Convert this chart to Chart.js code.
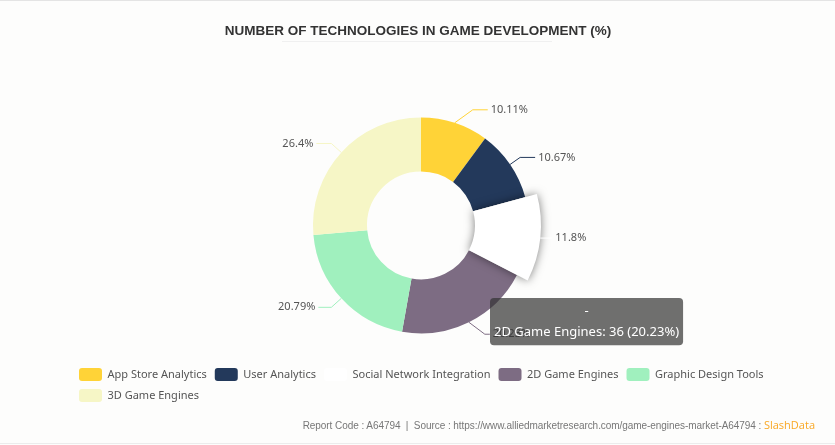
<!DOCTYPE html>
<html>
<head>
<meta charset="utf-8">
<style>
  html, body { margin: 0; padding: 0; background: #fdfdfc; }
  #wrap { position: relative; width: 835px; height: 445px; overflow: hidden; }
  #wrap:before { content: ''; position: absolute; left: 0; right: 0; top: 0; height: 1px; background: #e4e4e4; }
  #wrap:after { content: ''; position: absolute; left: 0; right: 0; bottom: 1px; height: 1px; background: #ececec; }
  #underline { position: absolute; left: 282px; top: 41px; width: 270px; height: 1px; background: #f0f0f0; }
  #footer { position: absolute; right: 20px; top: 417px; font: 10px "Liberation Sans", Arial, sans-serif; letter-spacing: -0.06px; color: #777; white-space: pre; }
  #footer span { font: 11px "Open Sans", sans-serif; letter-spacing: 0; color: #f9a825; }
</style>
</head>
<body>
<div id="wrap">
  <canvas id="chart" width="835" height="445"></canvas>
  <div id="underline"></div>
  <div id="footer">Report Code : A64794  |  Source : https://www.alliedmarketresearch.com/game-engines-market-A64794 : <span>SlashData</span></div>
</div>
<script src="https://cdn.jsdelivr.net/npm/chart.js@4"></script>
<script>
const categories = ['App Store Analytics', 'User Analytics', 'Social Network Integration', '2D Game Engines', 'Graphic Design Tools', '3D Game Engines'];
const counts = [18, 19, 21, 36, 37, 47];
const shares = ['10.11%', '10.67%', '11.8%', '20.23%', '20.79%', '26.4%'];
const colors = ['#FFD337', '#23395B', '#FFFFFF', '#7D6C83', '#A0F0BE', '#F6F6C6'];
const highlighted = 2;   // the slice drawn bigger with a shadow
const tooltipSlice = 3;

// elbow dx, elbow dy, horizontal run for each leader line
const leaders = [[18, -13, 15], [10, -7, 15], [10, 0, 2], [16, 12, 5], [-10, 9, -13], [-10, -9, -15]];

Chart.Tooltip.positioners.fixedBox = () => ({ x: 494, y: 296 });

const sliceExtras = {
  id: 'sliceExtras',
  afterDatasetsUpdate(chart) {
    const arc = chart.getDatasetMeta(0).data[highlighted];
    arc.outerRadius = 120;
  },
  afterLayout(chart) {
    chart.titleBlock.left -= 3;
    chart.titleBlock.right -= 3;
    chart.legend.left += 10;
  },
  afterDatasetsDraw(chart) {
    const ctx = chart.ctx;
    const arcs = chart.getDatasetMeta(0).data;

    ctx.save();
    ctx.shadowColor = 'rgba(0,0,0,0.5)';
    ctx.shadowBlur = 10;
    arcs[highlighted].draw(ctx);
    ctx.restore();

    ctx.save();
    ctx.font = '11px "Noto Sans"';
    ctx.textBaseline = 'middle';
    ctx.lineWidth = 1;
    arcs.forEach((arc, i) => {
      const mid = (arc.startAngle + arc.endAngle) / 2;
      const x0 = arc.x + Math.cos(mid) * arc.outerRadius;
      const y0 = arc.y + Math.sin(mid) * arc.outerRadius;
      const [dx, dy, run] = leaders[i];
      const x1 = x0 + dx, y1 = y0 + dy, x2 = x1 + run;
      ctx.strokeStyle = colors[i];
      ctx.beginPath();
      ctx.moveTo(x0, y0);
      ctx.lineTo(x1, y1);
      ctx.lineTo(x2, y1);
      ctx.stroke();
      ctx.fillStyle = '#555';
      ctx.textAlign = run < 0 ? 'right' : 'left';
      ctx.fillText(shares[i], x2 + (run < 0 ? -3 : 3), y1);
    });
    ctx.restore();
  }
};

const chart = new Chart(document.getElementById('chart'), {
  type: 'doughnut',
  data: {
    labels: categories,
    datasets: [{ data: counts, backgroundColor: colors, borderWidth: 0, hoverOffset: 0 }]
  },
  options: {
    responsive: false,
    animation: false,
    events: [],
    radius: 108,
    cutout: '50%',
    layout: { padding: { left: 61, right: 54, bottom: 33 } },
    plugins: {
      title: {
        display: true,
        text: 'NUMBER OF TECHNOLOGIES IN GAME DEVELOPMENT (%)',
        color: '#333',
        font: { family: '"Liberation Sans"', size: 13.5, weight: 'bold' },
        padding: { top: 23, bottom: 51.6 }
      },
      legend: {
        position: 'bottom',
        align: 'start',
        labels: {
          color: '#555',
          font: { family: '"Noto Sans"', size: 11 },
          boxWidth: 23,
          boxHeight: 13,
          padding: 8,
          useBorderRadius: true,
          borderRadius: 3
        }
      },
      tooltip: {
        enabled: true,
        position: 'fixedBox',
        xAlign: 'left',
        yAlign: 'top',
        caretSize: 0,
        displayColors: false,
        backgroundColor: 'rgba(50,50,50,0.7)',
        cornerRadius: 4,
        padding: { top: 5, bottom: 5, left: 4, right: 4 },
        titleAlign: 'center',
        titleColor: '#fff',
        bodyColor: '#fff',
        titleFont: { family: '"Noto Sans"', size: 13, weight: 'normal' },
        bodyFont: { family: '"Noto Sans"', size: 13 },
        callbacks: {
          title: () => '-',
          label: (item) => `${item.label}: ${item.raw} (${shares[item.dataIndex]})`
        }
      }
    }
  },
  plugins: [sliceExtras]
});

chart.tooltip.setActiveElements([{ datasetIndex: 0, index: tooltipSlice }], { x: 494, y: 296 });
chart.update();
</script>
</body>
</html>
